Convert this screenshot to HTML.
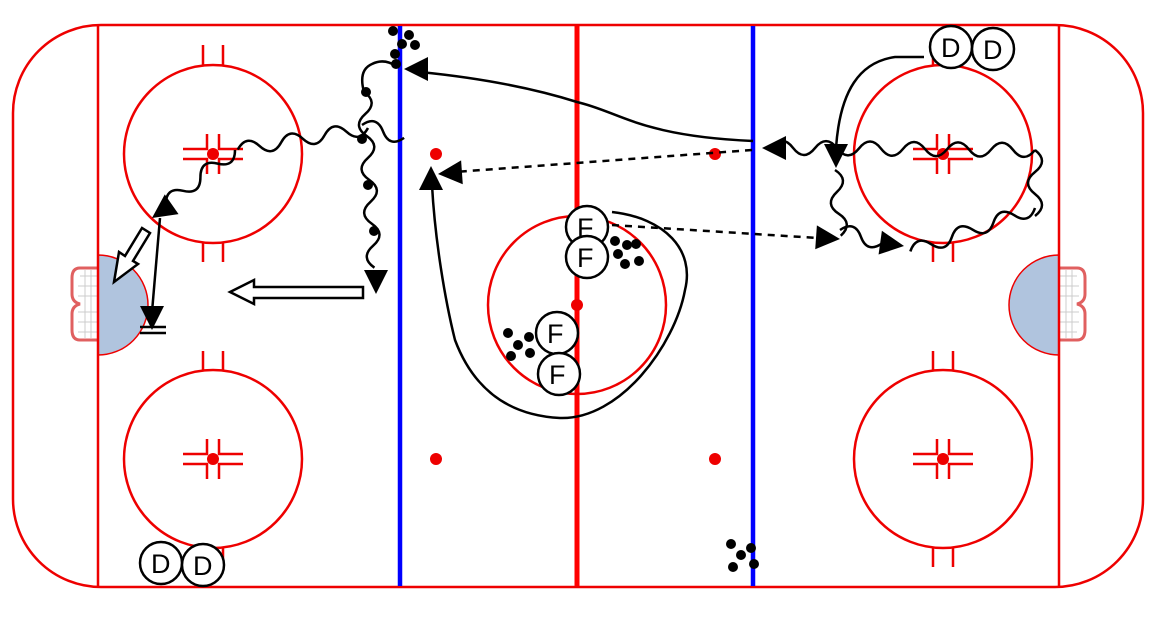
<!DOCTYPE html>
<html><head><meta charset="utf-8"><style>
html,body{margin:0;padding:0;background:#fff;}
svg{display:block;}
text{font-family:"Liberation Sans",sans-serif;font-size:27px;fill:#000;}
</style></head><body>
<svg width="1166" height="637" viewBox="0 0 1166 637" xmlns="http://www.w3.org/2000/svg">
<defs>
<path id="h" d="M0,0 l-24,-12 l0,24 z"/>
</defs>
<!-- rink -->
<rect x="13" y="25" width="1130" height="562" rx="88" ry="88" fill="#fff" stroke="#e00" stroke-width="2.5"/>
<!-- creases -->
<path d="M98,255 A50,50 0 0 1 98,355 Z" fill="#b0c4de" stroke="#e00" stroke-width="1.5"/>
<path d="M1059,255 A50,50 0 0 0 1059,355 Z" fill="#b0c4de" stroke="#e00" stroke-width="1.5"/>
<!-- goals -->
<g fill="#fff" stroke="#e06060" stroke-width="3">
<path d="M98,268 L80,268 Q72,268 72,278 L72,294 Q72,302 80,304 Q72,306 72,314 L72,330 Q72,340 80,340 L98,340"/>
<path d="M1059,268 L1077,268 Q1085,268 1085,278 L1085,294 Q1085,302 1077,304 Q1085,306 1085,314 L1085,330 Q1085,340 1077,340 L1059,340"/>
</g>
<g stroke="#ccc" stroke-width="1">
<path d="M80,276H97M78,286H97M78,296H97M78,312H97M78,322H97M78,332H97M85,270V338M91,270V338"/>
<path d="M1060,276H1077M1060,286H1079M1060,296H1079M1060,312H1079M1060,322H1079M1060,332H1077M1066,270V338M1072,270V338"/>
</g>
<!-- lines -->
<line x1="98" y1="26" x2="98" y2="586" stroke="#e00" stroke-width="2.5"/>
<line x1="1059" y1="26" x2="1059" y2="586" stroke="#e00" stroke-width="2.5"/>
<line x1="400" y1="26" x2="400" y2="586" stroke="#00f" stroke-width="4.5"/>
<line x1="753" y1="26" x2="753" y2="586" stroke="#00f" stroke-width="4.5"/>
<line x1="577" y1="26" x2="577" y2="586" stroke="#f00" stroke-width="5"/>
<!-- circles -->
<g fill="none" stroke="#e00" stroke-width="2.5">
<circle cx="213" cy="154" r="89"/><circle cx="213" cy="459" r="89"/>
<circle cx="943" cy="154" r="89"/><circle cx="943" cy="459" r="89"/>
<circle cx="577" cy="305" r="89"/>
<path d="M203,45V65M223,45V65M203,243V262M223,243V262M203,351V370M223,351V370M203,548V567M223,548V567"/>
<path d="M933,45V65M953,45V65M933,243V262M953,243V262M933,351V370M953,351V370M933,548V567M953,548V567"/>
<g id="fx">
<path d="M183,149H207V139M243,149H219V139M183,159H207V169M243,159H219V169M207,149V134M219,149V134M207,159V174M219,159V174"/>
</g>
<use href="#fx" y="305"/><use href="#fx" x="730"/><use href="#fx" x="730" y="305"/>
</g>
<g fill="#e00">
<circle cx="213" cy="154" r="6"/><circle cx="213" cy="459" r="6"/><circle cx="943" cy="154" r="6"/><circle cx="943" cy="459" r="6"/>
<circle cx="436" cy="154" r="6"/><circle cx="436" cy="459" r="6"/><circle cx="715" cy="154" r="6"/><circle cx="715" cy="459" r="6"/>
<circle cx="577" cy="305" r="6"/>
</g>
<!-- solid curves -->
<g fill="none" stroke="#000" stroke-width="2.5">
<path d="M753,141 C640,136 620,112 577,102 C520,84 460,76 420,72"/>
<path d="M924,57 L895,57 C860,62 840,90 836,148"/>
<path d="M612,212 C665,218 695,250 685,290 C675,345 620,420 560,418 C500,415 470,380 455,340 C445,300 435,240 432,185"/>
<path d="M160,218 L152,312"/>
</g>
<!-- dotted -->
<g fill="none" stroke="#000" stroke-width="2.5" stroke-dasharray="7,6">
<path d="M752,150 L455,172"/>
<path d="M612,225 L818,238"/>
</g>
<!-- waves -->
<g fill="none" stroke="#000" stroke-width="2.5">
<path transform="translate(368,128) rotate(170.6)" d="M0,0 q11,-14 22,0 t22,0 t22,0 t22,0 t22,0 t22,0"/>
<path transform="translate(235,150) rotate(141.8)" d="M0,0 q11,-14 22,0 t22,0 t22,0 t22,0"/>
<path transform="translate(362,125) rotate(17)" d="M0,0 q11,-14 22,0 t22,0"/>
<path transform="translate(364,92) rotate(86.6)" d="M0,0 q11,-14 22,0 t22,0 t22,0 t22,0 t22,0 t22,0 t22,0 t22,0"/>
<path d="M364,92 Q358,70 372,64 Q384,58 396,66"/>
<path transform="translate(1035,150) rotate(180.5)" d="M0,0 q11,-14 22,0 t22,0 t22,0 t22,0 t22,0 t22,0 t22,0 t22,0 t22,0 t22,0 t22,0 t22,0"/>
<path transform="translate(1035,150) rotate(90)" d="M0,0 q11,-14 22,0 t22,0 t22,0"/>
<path transform="translate(1035,208) rotate(160.8)" d="M0,0 q11,-14 22,0 t22,0 t22,0 t22,0 t22,0 t22,0"/>
<path transform="translate(835,170) rotate(85)" d="M0,0 q11,-14 22,0 t22,0 t22,0"/>
<path transform="translate(840,230) rotate(18)" d="M0,0 q11,-14 22,0 t22,0"/>
</g>
<!-- arrowheads -->
<g fill="#000">
<use href="#h" transform="translate(404,69) rotate(180)"/>
<use href="#h" transform="translate(438,174) rotate(176)"/>
<use href="#h" transform="translate(840,239) rotate(4)"/>
<use href="#h" transform="translate(431,166) rotate(-90)"/>
<use href="#h" transform="translate(836,168) rotate(90)"/>
<use href="#h" transform="translate(152,218) rotate(145)"/>
<use href="#h" transform="translate(376,294) rotate(90)"/>
<use href="#h" transform="translate(762,148) rotate(180)"/>
<use href="#h" transform="translate(904,246) rotate(8)"/>
<use href="#h" transform="translate(152,330) rotate(90)"/>
</g>
<path d="M140,327H166M140,333H166" stroke="#000" stroke-width="2.5"/>
<!-- hollow arrows -->
<g fill="#fff" stroke="#000" stroke-width="2.5">
<path d="M363,287 L254,287 L254,280 L230,292 L254,304 L254,298 L363,298 Z"/>
<path d="M142,228 L125,256 L119,252 L114,282 L138,264 L133,261 L150,233 Z"/>
</g>
<!-- players -->
<g fill="#fff" stroke="#000" stroke-width="2.5">
<circle cx="587" cy="227" r="21"/><circle cx="587" cy="257" r="21"/>
<circle cx="557" cy="333" r="21"/><circle cx="559" cy="374" r="21"/>
<circle cx="951" cy="47" r="21"/><circle cx="993" cy="49" r="21"/>
<circle cx="161" cy="563" r="21"/><circle cx="203" cy="565" r="21"/>
</g>
<text x="577" y="237">F</text><text x="577" y="267">F</text>
<text x="547" y="343">F</text><text x="549" y="384">F</text>
<text x="941" y="57">D</text><text x="983" y="59">D</text>
<text x="151" y="573">D</text><text x="193" y="575">D</text>
<!-- pucks -->
<g fill="#000">
<circle cx="393" cy="31" r="5"/><circle cx="409" cy="35" r="5"/><circle cx="402" cy="44" r="5"/><circle cx="415" cy="45" r="5"/><circle cx="395" cy="54" r="5"/><circle cx="396" cy="64" r="5"/>
<circle cx="366" cy="92" r="5"/><circle cx="362" cy="139" r="5"/><circle cx="368" cy="185" r="5"/><circle cx="374" cy="231" r="5"/>
<circle cx="615" cy="241" r="5"/><circle cx="627" cy="245" r="5"/><circle cx="636" cy="244" r="5"/><circle cx="618" cy="254" r="5"/><circle cx="639" cy="261" r="5"/><circle cx="625" cy="264" r="5"/>
<circle cx="508" cy="333" r="5"/><circle cx="529" cy="337" r="5"/><circle cx="518" cy="345" r="5"/><circle cx="511" cy="356" r="5"/><circle cx="530" cy="353" r="5"/>
<circle cx="731" cy="544" r="5"/><circle cx="751" cy="548" r="5"/><circle cx="741" cy="555" r="5"/><circle cx="733" cy="567" r="5"/><circle cx="754" cy="564" r="5"/>
</g>
</svg>
</body></html>
